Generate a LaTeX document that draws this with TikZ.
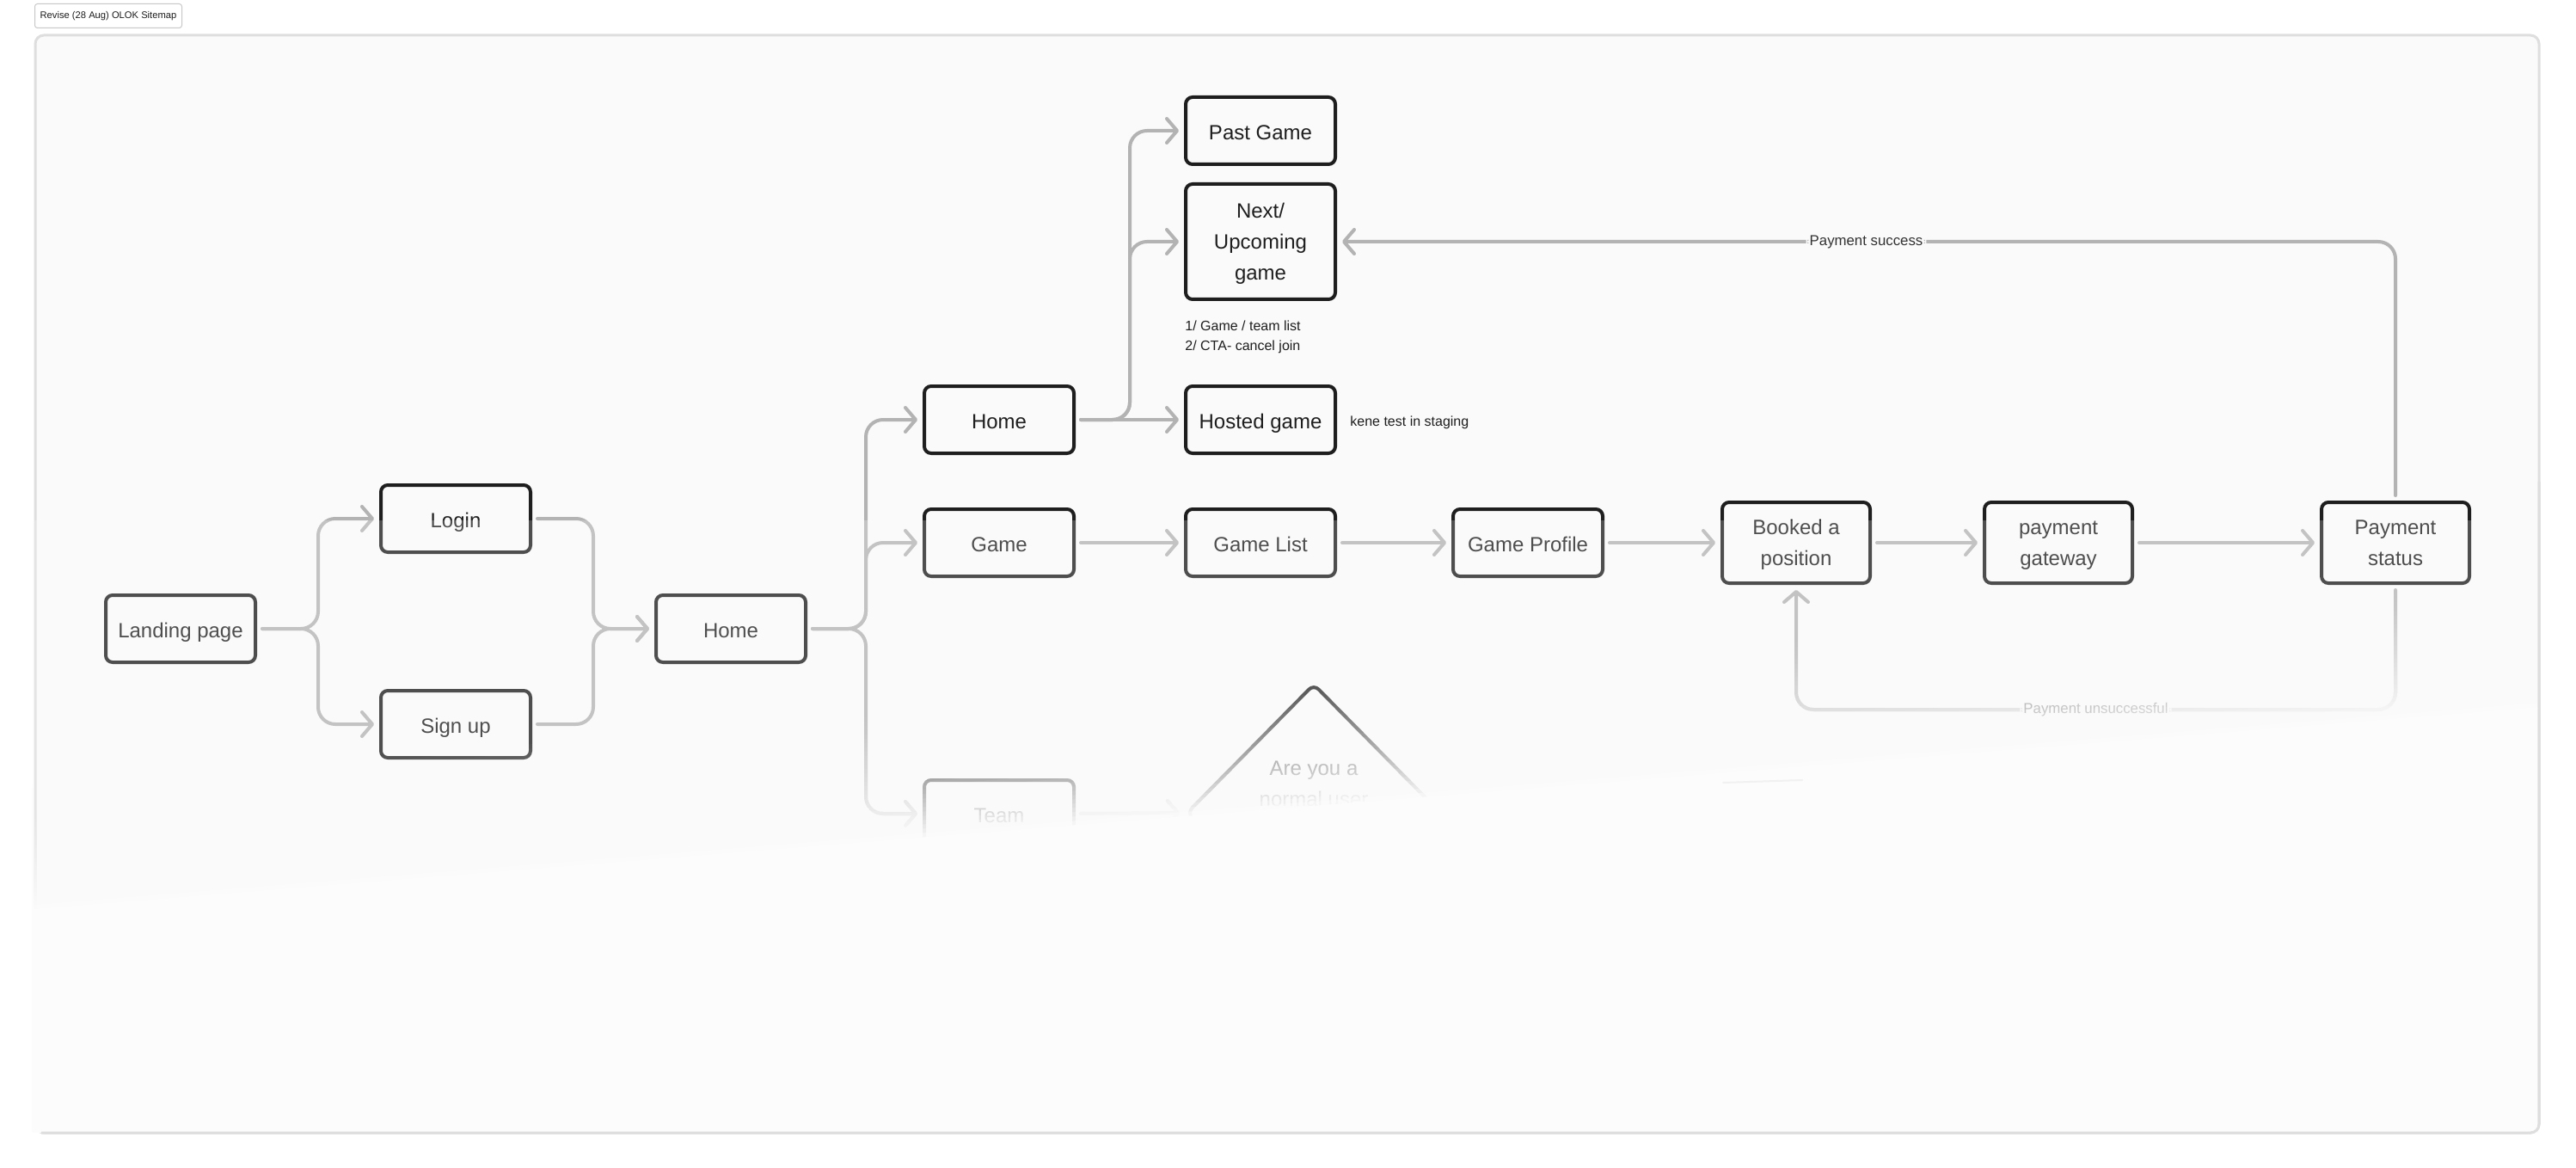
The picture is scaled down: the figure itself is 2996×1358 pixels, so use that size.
\documentclass[tikz,border=0pt]{standalone}
\usepackage{fontspec}
\setmainfont{Liberation Sans}
\usetikzlibrary{arrows.meta,shapes.geometric,calc}
\definecolor{ink}{HTML}{1E1E1E}
\definecolor{wire}{HTML}{B3B3B3}
\definecolor{canvas}{HTML}{FAFAFA}
\definecolor{veil}{HTML}{FCFCFC}
\definecolor{rim}{HTML}{DEDEDE}
\definecolor{tagline}{HTML}{C8C8C8}
\definecolor{labtext}{HTML}{333333}
\definecolor{ghost}{HTML}{F1F1F1}
\newcommand\linestrut{\rule[-2.5pt]{0pt}{15.7pt}}
\newcommand\mlstrut{\rule[-2.5pt]{0pt}{13.7pt}}

\begin{document}
\begin{tikzpicture}[x=0.5pt,y=-0.5pt,
  box/.style={draw=ink, line width=2pt, rounded corners=4pt, minimum width=87pt, minimum height=39pt, inner sep=0pt, align=center, text=ink, font=\fontsize{12}{18}\selectfont},
  onebox/.style={box, execute at begin node=\linestrut, execute at end node=\linestrut},
  tallbox/.style={box, minimum width=86pt, minimum height=47pt},
  conn/.style={draw=wire, line width=2pt, rounded corners=10pt, line cap=round, line join=round, -{Straight Barb[length=6pt,width=14pt,round]}, shorten >=3pt, shorten <=3pt},
  edgelabel/.style={fill=canvas, inner sep=2pt, text=labtext, font=\fontsize{8.4}{10}\selectfont},
  note/.style={inner sep=0pt, text=ink, align=left, font=\fontsize{8}{11.5}\selectfont}
]
% page and canvas
\fill[white] (0,0) rectangle (2996,1358);
\useasboundingbox (0,0) rectangle (2996,1358);
\fill[canvas, rounded corners=5pt] (41,41) rectangle (2953,1317);
\draw[rim, line width=1.5pt, rounded corners=5pt] (41,41) rectangle (2953,1317);

% nodes
\node[onebox] (lp) at (210,731) {Landing page};
\node[onebox] (login) at (530,603) {Login};
\node[onebox] (signup) at (530,842) {Sign up};
\node[onebox] (home1) at (850,731) {Home};
\node[onebox] (home2) at (1162,488) {Home};
\node[onebox] (game) at (1162,631) {Game};
\node[onebox] (team) at (1162,946) {Team};
\node[onebox] (past) at (1466,152) {Past Game};
\node[box, minimum height=67pt] (next) at (1466,281) {\mlstrut Next/\\Upcoming\\game\mlstrut};
\node[onebox] (hosted) at (1466,488) {Hosted game};
\node[onebox] (glist) at (1466,631) {Game List};
\node[onebox] (gprof) at (1777,631) {Game Profile};
\node[tallbox] (booked) at (2089,631) {\mlstrut Booked a\\position\mlstrut};
\node[tallbox] (gateway) at (2394,631) {\mlstrut payment\\gateway\mlstrut};
\node[tallbox] (status) at (2786,631) {\mlstrut Payment\\status\mlstrut};
\node[diamond, draw=ink, line width=2pt, rounded corners=4pt, minimum width=148pt, minimum height=150pt, inner sep=0pt] (dia) at (1528,945) {};
\node[text=ink, font=\fontsize{12}{18}\selectfont, align=center, inner sep=0pt] (diatext) at (1528,911) {\mlstrut Are you a\\normal user\mlstrut};

\node[note, anchor=west] (notes) at (1378,392) {1/ Game / team list\\2/ CTA- cancel join};
\node[note, anchor=west] (kene) at (1570,491) {kene test in staging};

% bus points
\coordinate (b1) at (370,731);
\coordinate (b2) at (690,731);
\coordinate (b3) at (1007,731);
\coordinate (b4) at (1314,488);
\coordinate (lowbus) at (2400,825);

% connectors
\draw[conn] (lp.east) -- (b1) |- (login.west);
\draw[conn] (lp.east) -- (b1) |- (signup.west);
\draw[conn] (login.east) -| (b2) -- (home1.west);
\draw[conn] (signup.east) -| (b2) -- (home1.west);
\draw[conn] (home1.east) -- (b3) |- (home2.west);
\draw[conn] (home1.east) -- (b3) |- (game.west);
\draw[conn] (home1.east) -- (b3) |- (team.west);
\draw[conn] (home2.east) -- (b4) |- (past.west);
\draw[conn] (home2.east) -- (b4) |- (next.west);
\draw[conn] (home2.east) -- (hosted.west);
\draw[conn] (game.east) -- (glist.west);
\draw[conn] (glist.east) -- (gprof.west);
\draw[conn] (gprof.east) -- (booked.west);
\draw[conn] (booked.east) -- (gateway.west);
\draw[conn] (gateway.east) -- (status.west);
\draw[conn] (team.east) -- (dia.west);
\draw[conn] (status.north) |- node[edgelabel, pos=0.75] (lsuccess) {Payment success} (next.east);
\draw[conn] (status.south) -- (status.south |- lowbus) -- node[edgelabel] (lfail) {Payment unsuccessful} (booked.south |- lowbus) -- (booked.south);

% fading veil
\begin{scope}
\clip (37,42) rectangle (2951,1316);
\fill[veil, fill opacity=0.22] (37,605) rectangle (2951,1316);
\foreach \k in {1,...,30}{
  \pgfmathsetmacro\op{1/(31-\k)}
  \fill[veil, fill opacity=\op] (37,{912+(\k-1)*5}) -- (2953,{677+(\k-1)*5}) -- (2953,1317) -- (37,1317) -- cycle;
}
\end{scope}
\draw[ghost, line width=1pt, line cap=round] (2004,910) -- (2096,907);
\draw[rim, line width=1.5pt, rounded corners=5pt] (2953,560) -- (2953,1317) -- (48,1317);

% title tag
\node[draw=tagline, line width=0.5pt, rounded corners=1.5pt, fill=white, minimum width=85.5pt, minimum height=14pt, inner sep=0pt, font=\fontsize{5.6}{6}\selectfont, text=ink] (title) at (126,18.5) {Revise (28 Aug) OLOK Sitemap};
\end{tikzpicture}
\end{document}
